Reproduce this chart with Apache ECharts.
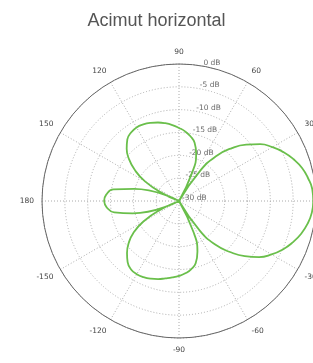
<!DOCTYPE html>
<html>
<head>
<meta charset="utf-8">
<script src="https://cdn.jsdelivr.net/npm/echarts@6/dist/echarts.min.js"></script>
<style>
  html, body { margin: 0; padding: 0; background: #fff; }
  #chart { width: 313px; height: 363px; }
</style>
</head>
<body>
<div id="chart"></div>
<script>
// azimuth angles (deg) and measured gain (dB)
var angles = [
    -180, -175, -170, -165, -160, -155, -150, -145, -140, -135, -130, -125,
    -120, -115, -110, -105, -100, -95, -90, -85, -80, -75, -70, -65,
    -60, -55, -50, -45, -40, -35, -30, -25, -20, -15, -10, -5,
    0, 5, 10, 15, 20, 25, 30, 35, 40, 45, 50, 55,
    60, 65, 70, 75, 80, 85, 90, 95, 100, 105, 110, 115,
    120, 125, 130, 135, 140, 145, 150, 155, 160, 165, 170, 175, 180
];
var gainDb = [
    -13.6, -14.1, -15.6, -19.5, -30, -25.5, -21, -17.8, -15.6, -13.9, -12.5, -11.7,
    -11.5, -11.6, -11.9, -12.3, -12.8, -13.2, -13.6, -14.1, -14.8, -15.9, -18.2, -22.5,
    -30, -22, -17.4, -14.2, -11.2, -8.6, -6.6, -4.9, -3.5, -2.3, -1.4, -0.8,
    -0.6, -0.7, -1.3, -2.1, -3.3, -4.7, -6.4, -8.3, -10.8, -13.6, -17, -21.8,
    -30, -23.5, -19, -16.8, -15.6, -14.7, -14.0, -13.3, -12.7, -12.2, -11.8, -11.5,
    -11.4, -11.7, -12.4, -13.8, -15.7, -18.2, -21.4, -25.8, -30, -19.8, -15.4, -14.0, -13.6
];
// ring labels
var radiusTicks = [0, -5, -10, -15, -20, -25, -30];

var chart = echarts.init(document.getElementById('chart'));

var patternData = angles.map(function (a, i) {
    return [gainDb[i], a];
});
var ringLabelData = radiusTicks.map(function (v) {
    return [v, 81];
});

var option = {
    animation: false,
    title: {
        text: 'Acimut horizontal',
        left: 'center',
        top: 7,
        textStyle: {
            fontFamily: 'Liberation Sans',
            fontSize: 18,
            fontWeight: 'normal',
            color: '#555'
        }
    },
    polar: {
        center: [179, 201],
        radius: 137
    },
    angleAxis: {
        type: 'value',
        min: -180,
        max: 180,
        interval: 30,
        startAngle: 180,
        clockwise: false,
        axisLine: { lineStyle: { color: '#666', width: 1 } },
        axisTick: { show: false },
        axisLabel: {
            margin: 8,
            fontFamily: 'DejaVu Sans',
            fontSize: 7.5,
            color: '#444',
            formatter: function (v) { return String(Math.abs(v) === 180 ? 180 : v); }
        },
        splitLine: { lineStyle: { color: '#aaa', type: [1, 2] } }
    },
    radiusAxis: {
        type: 'value',
        min: -30,
        max: 0,
        interval: 5,
        axisLine: { show: false },
        axisTick: { show: false },
        axisLabel: { show: false },
        splitLine: { lineStyle: { color: '#aaa', type: [1, 2] } }
    },
    series: [{
        type: 'line',
        coordinateSystem: 'polar',
        data: patternData,
        smooth: true,
        symbol: 'none',
        lineStyle: { color: '#6abf4b', width: 1.8 }
    }, {
        type: 'scatter',
        coordinateSystem: 'polar',
        data: ringLabelData,
        symbolSize: 0,
        silent: true,
        label: {
            show: true,
            position: 'right',
            distance: 3,
            offset: [0, -3],
            fontFamily: 'DejaVu Sans',
            fontSize: 7.5,
            color: '#444',
            formatter: function (p) { return p.value[0] + ' dB'; }
        }
    }]
};

chart.setOption(option);
</script>
</body>
</html>
